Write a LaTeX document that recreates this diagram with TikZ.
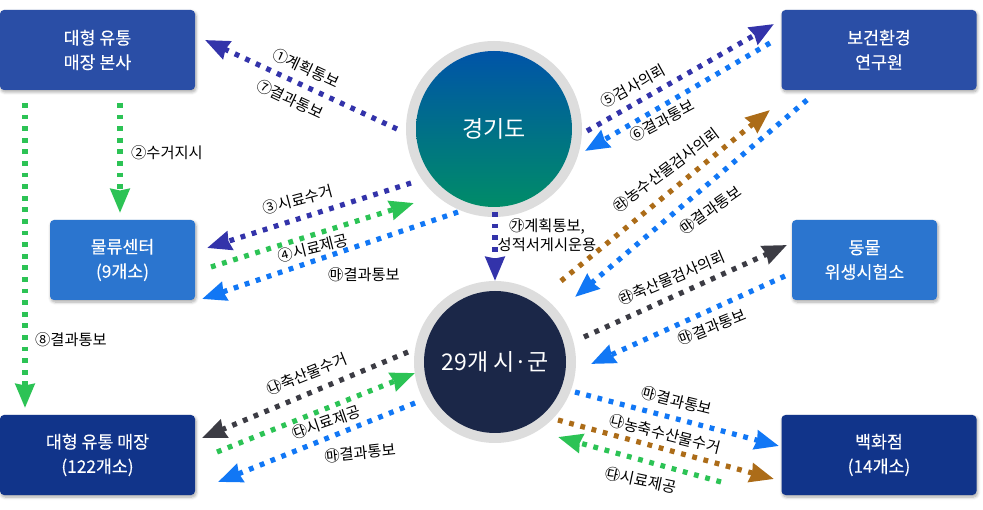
\documentclass[tikz,border=0pt]{standalone}
\usepackage{fontspec}
\setmainfont{Noto Sans CJK KR}
\newfontfamily\bxfont[FakeBold=0.2]{Noto Sans CJK KR}
\usetikzlibrary{arrows.meta,shadows.blur,shadings}
\definecolor{cnavy}{RGB}{51,51,170}
\definecolor{cblue}{RGB}{17,119,245}
\definecolor{cgreen}{RGB}{44,195,85}
\definecolor{cbrown}{RGB}{172,108,24}
\definecolor{cdark}{RGB}{60,60,68}
\definecolor{bxa}{RGB}{42,78,166}
\definecolor{bxb}{RGB}{43,117,207}
\definecolor{bxc}{RGB}{17,52,138}
\definecolor{cring}{RGB}{221,221,221}
\definecolor{cdisk}{RGB}{27,39,72}
\tikzset{
 x=1pt,y=-1pt,
 boxa/.style={rounded corners=4pt,minimum width=#1,minimum height=80pt,align=center,text=white,font=\bxfont\fontsize{17.3}{24.5}\selectfont,blur shadow={shadow blur steps=6,shadow xshift=1pt,shadow yshift=-2pt,shadow blur radius=3pt,shadow opacity=35}},
 flow/.style={line width=5.2pt,dash pattern=on 4.8pt off 6.8pt,-{Triangle[length=24pt,width=19pt,inset=1.5pt]},draw=#1},
 lab/.style={font=\fontsize{15.3}{19}\selectfont,text=black,inner sep=0pt,align=center},
 ringd/.style={circle,fill=cring,inner sep=0pt},
 disk/.style={circle,inner sep=0pt,text=white,font=\fontsize{23}{27}\selectfont},
}
\begin{document}
\begin{tikzpicture}
\useasboundingbox (0,0) rectangle (983,510);
% boxes
\node[boxa=195pt,fill=bxa] (hq) at (97.5,50) {대형 유통\\매장 본사};
\node[boxa=145pt,fill=bxb] (log) at (122.5,260) {물류센터\\(9개소)};
\node[boxa=195pt,fill=bxc] (mart) at (97.5,455) {대형 유통 매장\\(122개소)};
\node[boxa=195pt,fill=bxa] (lab) at (879,50) {보건환경\\연구원};
\node[boxa=145pt,fill=bxb] (vet) at (864.5,260) {동물\\위생시험소};
\node[boxa=195pt,fill=bxc] (dept) at (879,455) {백화점\\(14개소)};
% circles
\node[ringd,minimum size=176pt] (gg) at (494,129) {};
\node[disk,minimum size=156pt,shading angle=-20,top color={rgb,255:red,0;green,84;blue,168},bottom color={rgb,255:red,0;green,140;blue,104}] (ggd) at (gg.center) {경기도};
\node[ringd,minimum size=162pt] (si) at (495,362) {};
\node[disk,minimum size=142pt,fill=cdisk] (sid) at (si.center) {29개 시·군};
% free ends
\foreach \n/\x/\y in {
 a1/397/129, a2/205/40,
 b1/120/103, b2/120/213,
 c1/25/103, c2/25/408,
 d1/411/183, d2/207/248,
 e1/211/267, e2/414/203,
 f1/458/212, f2/202/299,
 g1/495/212, g2/495/281,
 h1/587/131, h2/774/24,
 i1/770/43, i2/585/151,
 j1/561/281, j2/770/110,
 k1/807/100, k2/575/297,
 l1/584/337, l2/787/245,
 m1/785/276, m2/591/364,
 n1/408/352, n2/202/438,
 o1/217/452, o2/415/373,
 p1/415/403, p2/218/482,
 q1/575/392, q2/779/446,
 r1/558/420, r2/774/479,
 s1/721/482, s2/558/437}
 {\coordinate (\n) at (\x,\y);}
\draw[flow=cnavy] (a1)--(a2);
\draw[flow=cgreen] (b1)--(b2);
\draw[flow=cgreen] (c1)--(c2);
\draw[flow=cnavy] (d1)--(d2);
\draw[flow=cgreen] (e1)--(e2);
\draw[flow=cblue] (f1)--(f2);
\draw[flow=cnavy] (g1)--(g2);
\draw[flow=cnavy] (h1)--(h2);
\draw[flow=cblue] (i1)--(i2);
\draw[flow=cbrown] (j1)--(j2);
\draw[flow=cblue] (k1)--(k2);
\draw[flow=cdark] (l1)--(l2);
\draw[flow=cblue] (m1)--(m2);
\draw[flow=cdark] (n1)--(n2);
\draw[flow=cgreen] (o1)--(o2);
\draw[flow=cblue] (p1)--(p2);
\draw[flow=cblue] (q1)--(q2);
\draw[flow=cbrown] (r1)--(r2);
\draw[flow=cgreen] (s1)--(s2);
% labels
\node[lab,rotate=-25] (t1) at (306,68) {①계획통보};
\node[lab,rotate=-25] (t7) at (290,99) {⑦결과통보};
\node[lab] (t2) at (167,153) {②수거지시};
\node[lab,rotate=15] (t3) at (298,200) {③시료수거};
\node[lab,rotate=14] (t4) at (313,248) {④시료제공};
\node[lab] (tm1) at (364,275) {㉲결과통보};
\node[lab] (t8) at (71,340) {⑧결과통보};
\node[lab] (tg) at (547,235) {㉮계획통보,\\성적서게시운용};
\node[lab,rotate=29] (t5) at (633,86) {⑤검사의뢰};
\node[lab,rotate=28] (t6) at (662,121) {⑥결과통보};
\node[lab,rotate=37] (tr1) at (666,170) {㉱농수산물검사의뢰};
\node[lab,rotate=35] (tm2) at (710,210) {㉲결과통보};
\node[lab,rotate=23] (tr2) at (672,278) {㉱축산물검사의뢰};
\node[lab,rotate=22] (tm3) at (712,327) {㉲결과통보};
\node[lab,rotate=22] (tn1) at (307,374) {㉯축산물수거};
\node[lab,rotate=19] (td1) at (326,422) {㉰시료제공};
\node[lab,rotate=6] (tm4) at (360,453) {㉲결과통보};
\node[lab,rotate=-14] (tm5) at (677,401) {㉲결과통보};
\node[lab,rotate=-14] (tn2) at (665,434) {㉯농축수산물수거};
\node[lab,rotate=-12] (td2) at (641,480) {㉰시료제공};
\end{tikzpicture}
\end{document}
